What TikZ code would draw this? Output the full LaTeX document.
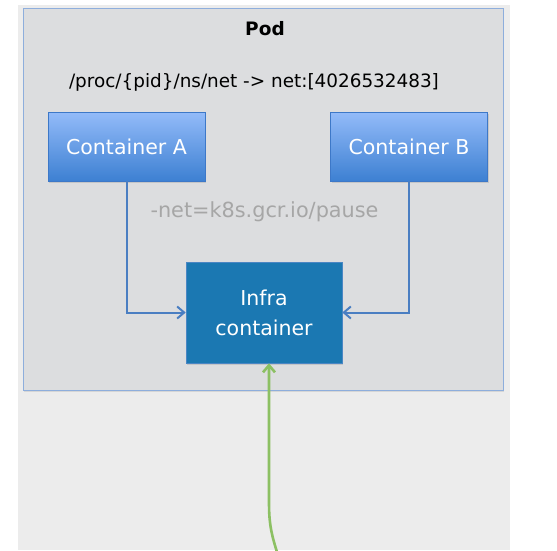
\documentclass[tikz,border=0pt]{standalone}
\usepackage{fontspec}
\setmainfont{DejaVu Sans}
\usetikzlibrary{arrows.meta,shadows}
\definecolor{outerbg}{HTML}{ECECEC}
\definecolor{podbg}{HTML}{DCDDDF}
\definecolor{podline}{HTML}{8EAEDC}
\definecolor{ctop}{HTML}{93BBF9}
\definecolor{cbot}{HTML}{3D80D2}
\definecolor{cline}{HTML}{3D78C8}
\definecolor{infrafill}{HTML}{1B78B2}
\definecolor{infraline}{HTML}{4A86C4}
\definecolor{linkblue}{HTML}{4A7EC2}
\definecolor{linkgreen}{HTML}{8CC063}
\definecolor{hintgray}{HTML}{A6A6A6}
\tikzset{
  x=1pt, y=-1pt,
  container/.style={draw=cline, line width=0.6pt, top color=ctop, bottom color=cbot,
    minimum width=157pt, minimum height=69pt, text=white, font=\fontsize{20.5}{24}\selectfont,
    drop shadow={shadow xshift=1pt, shadow yshift=-1.5pt, opacity=0.25}},
  infra/.style={draw=infraline, line width=0.6pt, fill=infrafill,
    minimum width=156pt, minimum height=101pt, text=white, align=center,
    font=\fontsize{20.5}{30}\selectfont,
    drop shadow={shadow xshift=1pt, shadow yshift=-1.5pt, opacity=0.25}},
  link/.style={draw=linkblue, line width=2pt, -{Straight Barb[length=7pt,width=12pt,line width=2pt]}},
  feed/.style={draw=linkgreen, line width=2.6pt, -{Straight Barb[length=7pt,width=12pt,line width=2.6pt]}}
}
\begin{document}
\begin{tikzpicture}
  \useasboundingbox (0,0) rectangle (557,550);
  % outer panel
  \fill[outerbg] (18,5) rectangle (510,550);
  % pod boundary
  \node[draw=podline, fill=podbg, line width=0.6pt, minimum width=480pt, minimum height=382pt,
        anchor=north west, inner sep=0pt,
        drop shadow={shadow xshift=0.5pt, shadow yshift=-1.5pt, opacity=0.2}] (pod) at (23,8) {};
  \node[font=\bfseries\fontsize{18.5}{22}\selectfont] (title) at (265,29) {Pod};
  \node[font=\fontsize{18.4}{22}\selectfont] (nsline) at (254,82) {/proc/\{pid\}/ns/net -> net:[4026532483]};
  % containers
  \node[container] (ca) at (126.5,146.5) {Container A};
  \node[container] (cb) at (409,146.5) {Container B};
  \node[text=hintgray, font=\fontsize{20.8}{24}\selectfont] (hint) at (264.5,212) {-net=k8s.gcr.io/pause};
  \node[infra] (infra) at (264,312.5) {Infra\\container};
  % links into the infra container
  \draw[link] (ca.south) |- (infra.west);
  \draw[link] (cb.south) |- (infra.east);
  \coordinate (src) at (277,552);
  \draw[feed] (src) .. controls (270,530) and (269,520) .. (269,500) -- (infra.south -| 269,0);
\end{tikzpicture}
\end{document}
